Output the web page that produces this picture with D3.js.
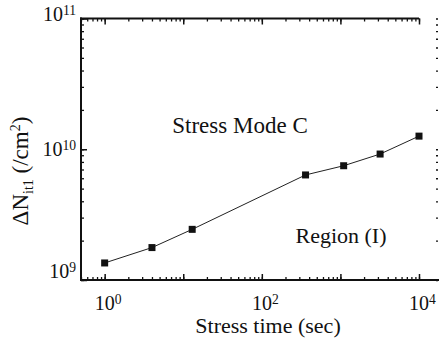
<!DOCTYPE html>
<html>
<head>
<meta charset="utf-8">
<script src="https://cdn.jsdelivr.net/npm/d3@7"></script>
<style>
  html, body { margin: 0; padding: 0; background: #fff; }
  svg { display: block; }
  text { font-family: "Liberation Serif", "DejaVu Serif", serif; fill: #111; }
</style>
</head>
<body>
<svg id="chart" width="439" height="339"></svg>
<script>
// Interface-trap density vs stress time
const stressTime = [1, 4, 13, 360, 1100, 3200, 10000];          // sec
const deltaNit = [1.35e9, 1.77e9, 2.44e9, 6.36e9, 7.48e9, 9.19e9, 1.26e10]; // /cm^2

const xLabelTicks = [1, 100, 10000];
const yLabelTicks = [1e9, 1e10, 1e11];
const xDomain = [0.5, 1e4];
const yDomain = [1e9, 1e11];

const svg = d3.select("#chart");
const mLeft = 81, mRight = 419, mTop = 18.5, mBottom = 280;

const x = d3.scaleLog().domain(xDomain).range([mLeft, mRight]);
const y = d3.scaleLog().domain(yDomain).range([mBottom, mTop]);

const sup = (base, exp) => sel => {
  sel.text(null);
  sel.append("tspan").text(base);
  sel.append("tspan").attr("dy", "-0.45em").attr("font-size", "0.68em").text(exp);
};

// all log ticks (minor), inward
const xMinor = x.ticks().filter(v => v >= xDomain[0] && v <= xDomain[1]);
const yMinor = y.ticks();
const decades = v => Math.abs(Math.log10(v) - Math.round(Math.log10(v))) < 1e-9;

function tickStyle(g, w) {
  g.select(".domain").remove();
  g.selectAll(".tick line").attr("stroke", "#111").attr("stroke-width", w);
}

// bottom axis
svg.append("g").attr("transform", `translate(0,${mBottom})`)
  .call(d3.axisBottom(x).tickValues(xMinor).tickSize(-3).tickFormat(""))
  .call(g => tickStyle(g, 1.3));
svg.append("g").attr("transform", `translate(0,${mBottom})`)
  .call(d3.axisBottom(x).tickValues(xMinor.filter(decades)).tickSize(-6).tickFormat(""))
  .call(g => tickStyle(g, 1.5));
const xl = svg.append("g").attr("transform", `translate(0,${mBottom})`)
  .call(d3.axisBottom(x).tickValues(xLabelTicks).tickSize(0).tickPadding(11).tickFormat(""));
xl.select(".domain").remove();
xl.selectAll(".tick text")
  .attr("font-size", 20).attr("fill", "#111").attr("dx", 3)
  .each(function(d) { d3.select(this).call(sup("10", Math.round(Math.log10(d)))); })
  .attr("dy", "0.95em");

// top axis
svg.append("g").attr("transform", `translate(0,${mTop})`)
  .call(d3.axisTop(x).tickValues(xMinor).tickSize(-3).tickFormat(""))
  .call(g => tickStyle(g, 1.3));
svg.append("g").attr("transform", `translate(0,${mTop})`)
  .call(d3.axisTop(x).tickValues(xMinor.filter(decades)).tickSize(-6).tickFormat(""))
  .call(g => tickStyle(g, 1.5));

// left axis
svg.append("g").attr("transform", `translate(${mLeft},0)`)
  .call(d3.axisLeft(y).tickValues(yMinor).tickSize(-3).tickFormat(""))
  .call(g => tickStyle(g, 1.3));
svg.append("g").attr("transform", `translate(${mLeft},0)`)
  .call(d3.axisLeft(y).tickValues(yMinor.filter(decades)).tickSize(-6).tickFormat(""))
  .call(g => tickStyle(g, 1.5));
const yl = svg.append("g").attr("transform", `translate(${mLeft},0)`)
  .call(d3.axisLeft(y).tickValues(yLabelTicks).tickSize(0).tickPadding(5).tickFormat(""));
yl.select(".domain").remove();
yl.selectAll(".tick text")
  .attr("font-size", 20).attr("fill", "#111")
  .each(function(d) { d3.select(this).call(sup("10", Math.round(Math.log10(d)))); });
yl.selectAll(".tick text")
  .attr("y", d => d === yDomain[0] ? -9 : (d === yDomain[1] ? -4 : 0));

// neighbouring frame ticks at the right edge
svg.append("g").attr("transform", `translate(436,0)`)
  .call(d3.axisRight(y).tickValues(yMinor).tickSize(2).tickFormat(""))
  .call(g => tickStyle(g, 1.3));

// frame lines
svg.append("line").attr("x1", mLeft).attr("x2", mLeft).attr("y1", mTop - 1).attr("y2", mBottom + 1)
  .attr("stroke", "#111").attr("stroke-width", 2);
svg.append("line").attr("x1", mLeft - 1).attr("x2", mRight).attr("y1", mTop).attr("y2", mTop)
  .attr("stroke", "#111").attr("stroke-width", 2);
svg.append("line").attr("x1", mLeft - 1).attr("x2", 439).attr("y1", mBottom).attr("y2", mBottom)
  .attr("stroke", "#111").attr("stroke-width", 2);

// data line and markers
const pts = stressTime.map((t, i) => [t, deltaNit[i]]);
svg.append("path").datum(pts)
  .attr("fill", "none").attr("stroke", "#222").attr("stroke-width", 1)
  .attr("d", d3.line().x(d => x(d[0])).y(d => y(d[1])));
svg.selectAll("rect.pt").data(pts).enter().append("rect")
  .attr("class", "pt")
  .attr("x", d => x(d[0]) - 3.5).attr("y", d => y(d[1]) - 3.5)
  .attr("width", 7).attr("height", 7).attr("fill", "#111");

// axis titles
svg.append("text").attr("x", 268).attr("y", 333).attr("text-anchor", "middle")
  .attr("font-size", 22).text("Stress time (sec)");

const yt = svg.append("text").attr("transform", "translate(27.5,171) rotate(-90)")
  .attr("text-anchor", "middle").attr("font-size", 23);
yt.append("tspan").text("ΔN");
yt.append("tspan").attr("font-size", 14).attr("dy", 5).text("it1");
yt.append("tspan").attr("dy", -5).text(" (/cm");
yt.append("tspan").attr("font-size", 14).attr("dy", -8).text("2");
yt.append("tspan").attr("dy", 8).text(")");

// annotations
svg.append("text").attr("x", 240).attr("y", 133).attr("text-anchor", "middle")
  .attr("font-size", 23).text("Stress Mode C");
svg.append("text").attr("x", 341).attr("y", 243).attr("text-anchor", "middle")
  .attr("font-size", 22).text("Region (I)");
</script>
</body>
</html>
